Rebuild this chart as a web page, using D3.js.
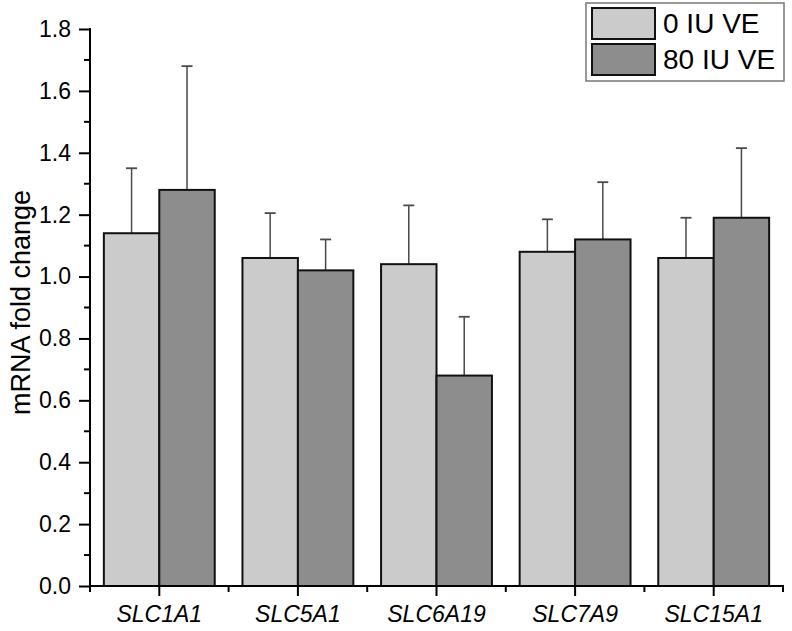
<!DOCTYPE html>
<html>
<head>
<meta charset="utf-8">
<script src="https://cdn.jsdelivr.net/npm/d3@7"></script>
<style>
html,body{margin:0;padding:0;background:#fff;}
svg{display:block;font-family:"Liberation Sans",Arial,sans-serif;}
</style>
</head>
<body>
<svg id="chart" width="792" height="631"></svg>
<script>
const categories = ["SLC1A1", "SLC5A1", "SLC6A19", "SLC7A9", "SLC15A1"];
const seriesNames = ["0 IU VE", "80 IU VE"];
const values0 = [1.14, 1.06, 1.04, 1.08, 1.06];
const values80 = [1.28, 1.02, 0.68, 1.12, 1.19];
const errors0 = [0.21, 0.145, 0.19, 0.105, 0.13];
const errors80 = [0.40, 0.10, 0.19, 0.185, 0.225];
const yTicks = [0.0, 0.2, 0.4, 0.6, 0.8, 1.0, 1.2, 1.4, 1.6, 1.8];
const colors = ["#cbcbcb", "#8d8d8d"];

const svg = d3.select("#chart");
const mLeft = 90, mRight = 783, mTop = 29, mBottom = 586;

const x = d3.scaleBand().domain(categories).range([mLeft, mRight]).paddingInner(0).paddingOuter(0);
const xInner = d3.scaleBand().domain(seriesNames).range([0, x.bandwidth()]).paddingInner(0).paddingOuter(0.25);
const y = d3.scaleLinear().domain([0, 1.8]).range([mBottom, mTop]);

const series = [values0, values80];
const errs = [errors0, errors80];

// bars
const g = svg.append("g");
categories.forEach((c, i) => {
  seriesNames.forEach((s, j) => {
    const bx = x(c) + xInner(s);
    const bw = xInner.bandwidth();
    const v = series[j][i], e = errs[j][i];
    const cx = bx + bw / 2;
    g.append("line").attr("x1", cx).attr("x2", cx).attr("y1", y(v)).attr("y2", y(v + e))
      .attr("stroke", "#4a4a4a").attr("stroke-width", 1.5);
    g.append("line").attr("x1", cx - 5.5).attr("x2", cx + 5.5).attr("y1", y(v + e)).attr("y2", y(v + e))
      .attr("stroke", "#4a4a4a").attr("stroke-width", 1.8);
    g.append("rect").attr("x", bx).attr("y", y(v)).attr("width", bw).attr("height", y(0) - y(v))
      .attr("fill", colors[j]).attr("stroke", "#111").attr("stroke-width", 2);
  });
});

// y axis
const yAxis = svg.append("g").attr("transform", `translate(${mLeft},0)`)
  .call(d3.axisLeft(y).tickValues(yTicks).tickFormat(d3.format(".1f")).tickSize(11).tickPadding(8));
yAxis.select(".domain").remove();
yAxis.selectAll(".tick line").attr("stroke", "#000").attr("stroke-width", 2);
yAxis.selectAll(".tick text").attr("font-size", 23).attr("fill", "#000")
  .attr("font-family", "Liberation Sans, Arial, sans-serif");
const yMinor = d3.range(1, 18, 2).map(d => d / 10);
svg.append("g").selectAll("line").data(yMinor).join("line")
  .attr("x1", mLeft - 6).attr("x2", mLeft).attr("y1", d => y(d)).attr("y2", d => y(d))
  .attr("stroke", "#000").attr("stroke-width", 2);
svg.append("line").attr("x1", mLeft).attr("x2", mLeft).attr("y1", mTop - 1).attr("y2", mBottom + 5)
  .attr("stroke", "#000").attr("stroke-width", 2);

// x axis
const xAxis = svg.append("g").attr("transform", `translate(0,${mBottom})`)
  .call(d3.axisBottom(x).tickSize(10).tickPadding(10));
xAxis.select(".domain").remove();
xAxis.selectAll(".tick line").attr("stroke", "#000").attr("stroke-width", 2);
xAxis.selectAll(".tick text").attr("font-size", 23).attr("font-style", "italic").attr("fill", "#000")
  .attr("font-family", "Liberation Sans, Arial, sans-serif");
const xMinor = categories.map(c => x(c)).concat([mRight]);
svg.append("g").selectAll("line").data(xMinor).join("line")
  .attr("x1", d => d).attr("x2", d => d).attr("y1", mBottom).attr("y2", mBottom + 6)
  .attr("stroke", "#000").attr("stroke-width", 2);
svg.append("line").attr("x1", mLeft - 1).attr("x2", mRight + 1).attr("y1", mBottom).attr("y2", mBottom)
  .attr("stroke", "#000").attr("stroke-width", 2);

// y label
svg.append("text").attr("transform", `translate(30,${(mTop + mBottom) / 2 - 5}) rotate(-90)`)
  .attr("text-anchor", "middle").attr("font-size", 27).attr("fill", "#000").text("mRNA fold change");

// legend
const leg = svg.append("g");
leg.append("rect").attr("x", 586).attr("y", 3).attr("width", 198).attr("height", 78)
  .attr("fill", "#fff").attr("stroke", "#777").attr("stroke-width", 1.5);
seriesNames.forEach((s, j) => {
  const yy = 8 + j * 36;
  leg.append("rect").attr("x", 592).attr("y", yy).attr("width", 63).attr("height", 31)
    .attr("fill", colors[j]).attr("stroke", "#111").attr("stroke-width", 2);
  leg.append("text").attr("x", 663).attr("y", yy + 25).attr("font-size", 28).attr("fill", "#000").text(s);
});
</script>
</body>
</html>
